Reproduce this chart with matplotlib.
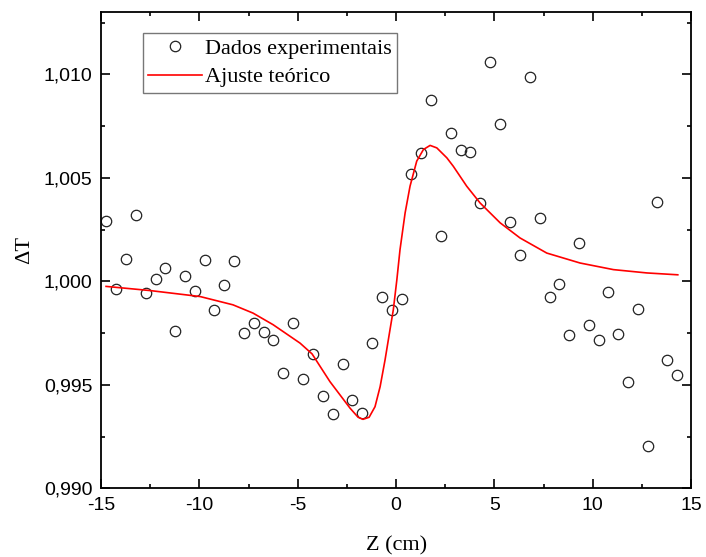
import numpy as np
import matplotlib
matplotlib.use('Agg')
import matplotlib.pyplot as plt
from matplotlib.ticker import MultipleLocator, FuncFormatter

# Dados experimentais (Z em cm, transmitância normalizada)
z_exp = [-14.74, -14.24, -13.73, -13.23, -12.73, -12.22, -11.73, -11.22, -10.71, -10.22,
         -9.73, -9.24, -8.74, -8.24, -7.73, -7.23, -6.73, -6.24, -5.73, -5.24,
         -4.73, -4.23, -3.73, -3.22, -2.71, -2.22, -1.71, -1.22, -0.71, -0.20,
         0.29, 0.76, 1.27, 1.78, 2.29, 2.78, 3.29, 3.78, 4.29, 4.79,
         5.30, 5.80, 6.30, 6.80, 7.31, 7.81, 8.30, 8.80, 9.30, 9.80,
         10.31, 10.79, 11.29, 11.79, 12.29, 12.80, 13.28, 13.79, 14.29]
t_exp = [1.00294, 0.99962, 1.00106, 1.00319, 0.99942, 1.00013, 1.00063, 0.99761, 1.00028, 0.99952,
         1.00102, 0.99863, 0.99983, 1.00097, 0.99750, 0.99797, 0.99757, 0.99717, 0.99557, 0.99800,
         0.99531, 0.99650, 0.99447, 0.99360, 0.99602, 0.99426, 0.99366, 0.99703, 0.99923, 0.99863,
         0.99915, 1.00520, 1.00621, 1.00874, 1.00218, 1.00716, 1.00637, 1.00624, 1.00379, 1.01060,
         1.00758, 1.00289, 1.00126, 1.00989, 1.00305, 0.99927, 0.99987, 0.99741, 1.00186, 0.99789,
         0.99719, 0.99947, 0.99746, 0.99513, 0.99868, 0.99205, 1.00384, 0.99621, 0.99550]

# Ajuste teórico
z_fit = [-14.74, -12.51, -9.96, -8.29, -7.27, -6.25, -4.88, -4.27, -3.36, -2.85,
         -2.34, -1.93, -1.68, -1.37, -1.07, -0.81, -0.56, -0.31, -0.14, 0.04,
         0.20, 0.46, 0.71, 1.05, 1.39, 1.73, 2.07, 2.58, 2.91, 3.59,
         4.27, 5.29, 6.30, 7.66, 9.35, 11.05, 12.75, 14.32]
t_fit = [0.99976, 0.99956, 0.99927, 0.99887, 0.99847, 0.99791, 0.99702, 0.99650, 0.99516, 0.99452,
         0.99388, 0.99344, 0.99334, 0.99344, 0.99395, 0.99492, 0.99621, 0.99766, 0.99863, 1.00008,
         1.00153, 1.00331, 1.00460, 1.00581, 1.00637, 1.00657, 1.00645, 1.00597, 1.00556, 1.00460,
         1.00379, 1.00283, 1.00210, 1.00137, 1.00089, 1.00057, 1.00041, 1.00032]

fig = plt.figure(figsize=(7.06, 5.57), dpi=100)
ax = fig.add_axes([0.143, 0.123, 0.836, 0.855])

ax.plot(z_exp, t_exp, 'o', markersize=7.5, markerfacecolor='none',
        markeredgecolor='#222222', markeredgewidth=0.9, label='Dados experimentais')
ax.plot(z_fit, t_fit, '-', color='red', linewidth=1.2, label='Ajuste teórico')

ax.set_xlim(-15, 15)
ax.set_ylim(0.990, 1.013)

ax.xaxis.set_major_locator(MultipleLocator(5))
ax.xaxis.set_minor_locator(MultipleLocator(2.5))
ax.yaxis.set_major_locator(MultipleLocator(0.005))
ax.yaxis.set_minor_locator(MultipleLocator(0.0025))
ax.yaxis.set_major_formatter(FuncFormatter(lambda v, p: f'{v:.3f}'.replace('.', ',')))
ax.xaxis.set_major_formatter(FuncFormatter(lambda v, p: f'{v:.0f}'))

ax.tick_params(which='both', direction='in', top=True, right=True, width=1.2)
ax.tick_params(which='major', length=6.5, labelsize=14, pad=6)
ax.tick_params(which='minor', length=3)
for lab in ax.get_xticklabels() + ax.get_yticklabels():
    lab.set_family('Liberation Sans')
for s in ax.spines.values():
    s.set_linewidth(1.3)

ax.set_xlabel('Z (cm)', family='Liberation Serif', fontsize=16, labelpad=16)
ax.set_ylabel('ΔT', family='Liberation Serif', fontsize=16, labelpad=7)

leg = ax.legend(loc='upper left', bbox_to_anchor=(0.071, 0.9565), borderaxespad=0,
                prop={'family': 'Liberation Serif', 'size': 16},
                fancybox=False, edgecolor='#777777', framealpha=1,
                borderpad=0.25, labelspacing=0.35, handlelength=2.4, handletextpad=0.15)
leg.get_frame().set_linewidth(1.0)

plt.savefig('out.png', dpi=100)
